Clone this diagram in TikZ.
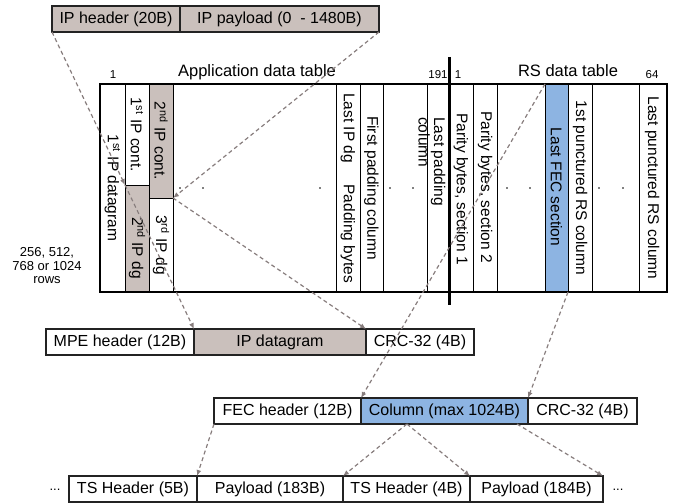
\documentclass[tikz,border=0pt]{standalone}
\usepackage{fontspec}
\setmainfont{Liberation Sans}
\usetikzlibrary{arrows.meta,calc}
\definecolor{dgray}{RGB}{202,192,188}
\definecolor{fecblue}{RGB}{141,180,226}
\definecolor{linkgray}{RGB}{135,125,125}
\definecolor{edge}{RGB}{35,35,35}

\begin{document}
\begin{tikzpicture}[x=1pt,y=-1pt,
  box/.style={draw=edge, line width=1.2pt, inner sep=0pt, outer sep=0pt,
    anchor=north west, minimum height=26pt, font=\fontsize{16}{19}\selectfont},
  cellbox/.style={draw=black, line width=0.9pt, inner sep=0pt, outer sep=0pt,
    anchor=north west, minimum height=208pt},
  coltext/.style={rotate=-90, inner sep=0pt, font=\fontsize{15.5}{14}\selectfont},
  toplabel/.style={anchor=base, inner sep=0pt, font=\fontsize{16.5}{19}\selectfont},
  idxlabel/.style={anchor=base, inner sep=0pt, font=\fontsize{11.5}{13}\selectfont},
  link/.style={draw=linkgray, line width=1.2pt, dash pattern=on 4pt off 3pt,
    -{Latex[length=6pt,width=5pt]}},
  dotmark/.style={fill=black},
]
\useasboundingbox (0,0) rectangle (674,503);

% IP packet
\node[box, fill=dgray, minimum width=128pt] (iphdr) at (52,6) {IP header (20B)};
\node[box, fill=dgray, minimum width=199pt] (ippay) at (180,6) {IP payload (0~ - 1480B)};

% table headings
\node[idxlabel] (n1) at (113,78) {1};
\node[toplabel] (apptitle) at (257,77) {Application data table};
\node[idxlabel] (n191) at (438,78) {191};
\node[idxlabel] (n1b) at (458,78) {1};
\node[toplabel] (rstitle) at (568,77) {RS data table};
\node[idxlabel] (n64) at (652,78) {64};

% application data table columns
\node[cellbox, minimum width=25pt] (dg1) at (100,84) {};
\node[cellbox, minimum width=24pt, minimum height=101pt] (cont1) at (125,84) {};
\node[cellbox, fill=dgray, minimum width=24pt, minimum height=107pt] (dg2) at (125,185) {};
\node[cellbox, fill=dgray, minimum width=24pt, minimum height=114pt] (cont2) at (149,84) {};
\node[cellbox, minimum width=24pt, minimum height=94pt] (dg3) at (149,198) {};
\node[cellbox, minimum width=163pt] (appdots) at (173,84) {};
\node[cellbox, minimum width=24pt] (lastdg) at (336,84) {};
\node[cellbox, minimum width=23pt] (padfirst) at (360,84) {};
\node[cellbox, minimum width=44pt] (paddots) at (383,84) {};
\node[cellbox, minimum width=22pt] (padlast) at (427,84) {};
% RS data table columns
\node[cellbox, minimum width=24pt] (par1) at (449,84) {};
\node[cellbox, minimum width=24pt] (par2) at (473,84) {};
\node[cellbox, minimum width=48pt] (rsdots) at (497,84) {};
\node[cellbox, fill=fecblue, minimum width=23pt] (lastfec) at (545,84) {};
\node[cellbox, minimum width=24pt] (punc1) at (568,84) {};
\node[cellbox, minimum width=47pt] (puncdots) at (592,84) {};
\node[cellbox, minimum width=28pt] (punclast) at (639,84) {};

% frame and split between the two tables
\draw[line width=2.5pt] (dg1.north west) rectangle (punclast.south east);
\draw[line width=3pt] (449,57) -- (449,305);

% column labels
\node[coltext] (tdg1) at (dg1.center) {1\textsuperscript{st} IP datagram};
\node[coltext] (tcont1) at (cont1.center) {1\textsuperscript{st} IP cont.};
\node[coltext] (tdg2) at (137,248) {2\textsuperscript{nd} IP dg};
\node[coltext] (tcont2) at (cont2.center) {2\textsuperscript{nd} IP cont.};
\node[coltext] (tdg3) at (dg3.center) {3\textsuperscript{rd} IP dg};
\node[coltext, anchor=west] (tlastdg) at (348,93) {Last IP dg};
\node[coltext, anchor=east] (tpadbytes) at (348,283) {Padding bytes};
\node[coltext] (tpadfirst) at (371.5,188) {First padding column};
\node[coltext, anchor=west, align=left] (tpadlast) at (432,117) {Last padding\\column};
\node[coltext] (tpar1) at (461,189) {Parity bytes, section 1};
\node[coltext] (tpar2) at (485,187) {Parity bytes, section 2};
\node[coltext] (tlastfec) at (556.5,187) {Last FEC section};
\node[coltext] (tpunc1) at (580,188) {1st punctured RS column};
\node[coltext] (tpunclast) at (652,188) {Last punctured RS column};

% elided columns
\foreach \px in {180,203,320,390,413,507,530,599,623}
  \fill[dotmark] (\px,188) circle (0.9pt);

\node[align=center, inner sep=0pt, font=\fontsize{13}{13.5}\selectfont] (rows) at (47,266)
  {256, 512,\\768 or 1024\\rows};

% MPE section
\node[box, minimum width=148pt] (mpehdr) at (46,329) {MPE header (12B)};
\node[box, fill=dgray, minimum width=172pt] (mpedg) at (194,329) {IP datagram};
\node[box, minimum width=108pt] (mpecrc) at (366,329) {CRC-32 (4B)};

% MPE-FEC section
\node[box, minimum width=147pt] (fechdr) at (214,398) {FEC header (12B)};
\node[box, fill=fecblue, minimum width=167pt] (fecol) at (361,398) {Column (max 1024B)};
\node[box, minimum width=109pt] (feccrc) at (528,398) {CRC-32 (4B)};

% transport stream packets
\node[box, minimum width=128pt] (ts1) at (69,476) {TS Header (5B)};
\node[box, minimum width=146pt] (ts2) at (197,476) {Payload (183B)};
\node[box, minimum width=127pt] (ts3) at (343,476) {TS Header (4B)};
\node[box, minimum width=133pt] (ts4) at (470,476) {Payload (184B)};
\node[inner sep=0pt, font=\fontsize{13}{15}\selectfont] (tsmore1) at (55,490) {...};
\node[inner sep=0pt, font=\fontsize{13}{15}\selectfont] (tsmore2) at (618,490) {...};

% mapping connectors
\coordinate (split) at ($(fecol.south west)!0.275!(fecol.south east)$);
\coordinate (tailend) at ($(fecol.south east)+(-11,0)$);
\draw[link] (iphdr.south west) -- (dg2.north west);
\draw[link] (dg2.north west) -- (mpedg.north west);
\draw[link] (ippay.south east) -- (cont2.south east);
\draw[link] (cont2.south east) -- (mpedg.north east);
\draw[link] (lastfec.north west) -- (fecol.north west);
\draw[link] (lastfec.south east) -- (fecol.north east);
\draw[link] (fechdr.south west) -- (ts1.north east);
\draw[link] (split) -- (ts2.north east);
\draw[link] (split) -- (ts3.north east);
\draw[link] (tailend) -- (ts4.north east);
\end{tikzpicture}
\end{document}
